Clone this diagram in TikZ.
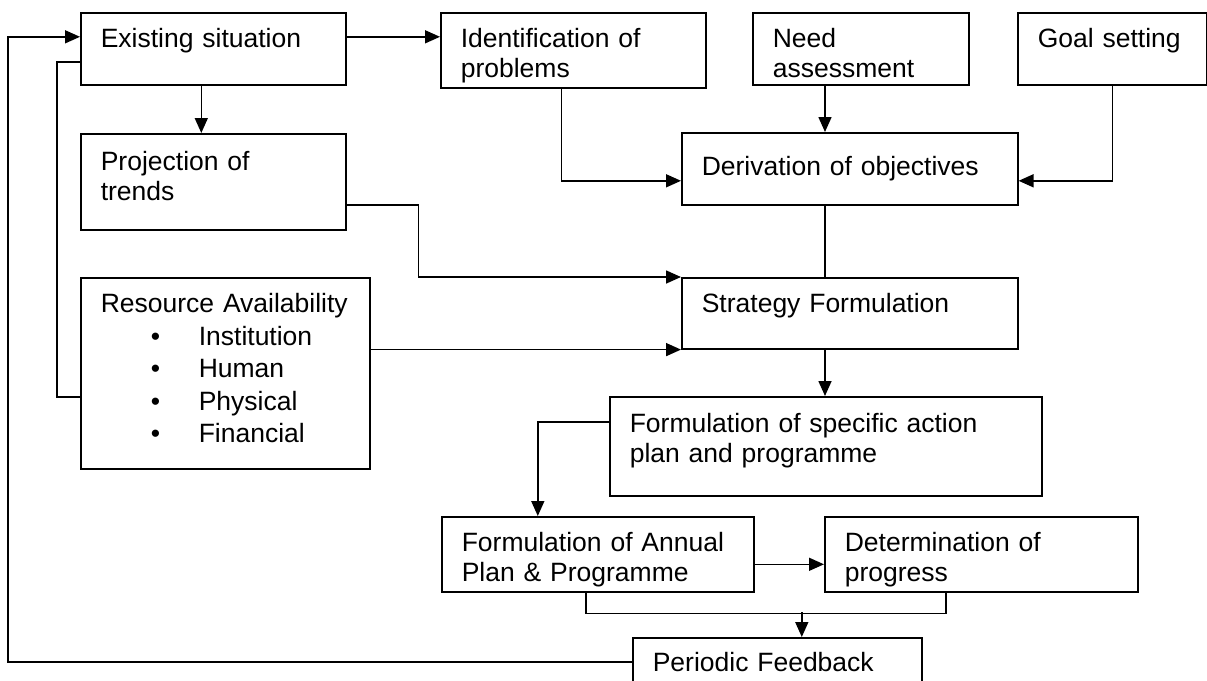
\documentclass[tikz,border=0pt]{standalone}
\usepackage{fontspec}
\setmainfont{Liberation Sans}
\usepackage{tikz}
\usetikzlibrary{arrows.meta,positioning}
\tikzset{
    basic/.style = {draw, line width=0.8pt, font=\fontsize{13.25}{14.8}\selectfont},
    block/.style 2 args = {basic, rectangle, anchor=north west, align=left,
        inner xsep=10pt, inner ysep=0pt, text height=17.5pt,
        text width=#1-20pt, text depth=#2-17.5pt},
    link/.style = {line width=0.8pt},
    flow/.style = {link, -{Triangle[length=7.5pt,width=6.5pt]}}
}
\newcommand{\listitem}[1]{\hspace*{25pt}\makebox[24pt][l]{\textbullet}#1}
\begin{document}
\begin{tikzpicture}[x=0.5pt,y=-0.5pt]
    \useasboundingbox (0,0) rectangle (1207,681);
    \node[block={132.5pt}{36pt}] (exist) at (80,12) {Existing situation};
    \node[block={132.5pt}{37.5pt}] (ident) at (440,12) {Identification of\\problems};
    \node[block={108pt}{36pt}] (need) at (752,12) {Need\\assessment};
    \node[block={94.5pt}{36pt}] (goal) at (1017,12) {Goal setting};
    \node[block={168pt}{36pt}, text height=21.5pt, text depth=14.5pt] (deriv) at (681,132) {Derivation of objectives};
    \node[block={132.5pt}{48pt}, text height=18.5pt, text depth=29.5pt] (proj) at (80,133) {Projection of\\trends};
    \node[block={144.5pt}{95.5pt}, font=\fontsize{13.25}{16.25}\selectfont] (res) at (80,277)
        {Resource Availability\\\listitem{Institution}\\\listitem{Human}\\\listitem{Physical}\\\listitem{Financial}};
    \node[block={168pt}{35.5pt}] (strat) at (681,277) {Strategy Formulation};
    \node[block={216pt}{49.5pt}, text height=18pt, text depth=31.5pt] (spec) at (609,396)
        {Formulation of specific action\\plan and programme};
    \node[block={156pt}{37.5pt}] (annual) at (441,516) {Formulation of Annual\\Plan \& Programme};
    \node[block={156.5pt}{37.5pt}] (det) at (824,516) {Determination of\\progress};
    \node[block={144.5pt}{30pt}, text height=17pt, text depth=13pt] (periodic) at (632,637) {Periodic Feedback};

    \coordinate (axis) at (825,204);
    \coordinate (fb) at ([xshift=12.25pt,yshift=12.5pt]periodic.north);

    \draw[flow] ([yshift=6pt]exist.east) -- ([yshift=6pt]exist.east -| ident.west);
    \draw[flow] ([xshift=-6pt]exist.south) -- ([xshift=-6pt]exist.south |- proj.north);
    \draw[flow] ([xshift=-6pt]ident.south) |- ([yshift=-6pt]deriv.west);
    \draw[flow] (need.south -| axis) -- (deriv.north -| axis);
    \draw[flow] (goal.south) |- ([yshift=-6pt]deriv.east);
    \draw[link] (deriv.south -| axis) -- (strat.north -| axis);
    \draw[flow] ([yshift=-11.5pt]proj.east) -- ++(36pt,0) |- (strat.north west);
    \draw[flow] (res.east |- strat.south west) -- (strat.south west);
    \draw[link] ([yshift=-6.5pt]exist.west) -- ++(-11.5pt,0) |- ([yshift=-11.75pt]res.west);
    \draw[flow] (strat.south -| axis) -- (spec.north -| axis);
    \draw[flow] ([yshift=12.25pt]spec.west) -| ([xshift=-30pt]annual.north);
    \draw[flow] ([yshift=-5pt]annual.east) -- ([yshift=-5pt]annual.east -| det.west);
    \draw[link] ([xshift=-6pt]annual.south) -- ++(0,-10.5pt) -| ([xshift=-17.75pt]det.south);
    \draw[flow] (fb) -- (fb |- periodic.north);
    \draw[flow] ([yshift=3pt]periodic.west) -- ++(-312pt,0) |- ([yshift=6pt]exist.west);
\end{tikzpicture}
\end{document}
